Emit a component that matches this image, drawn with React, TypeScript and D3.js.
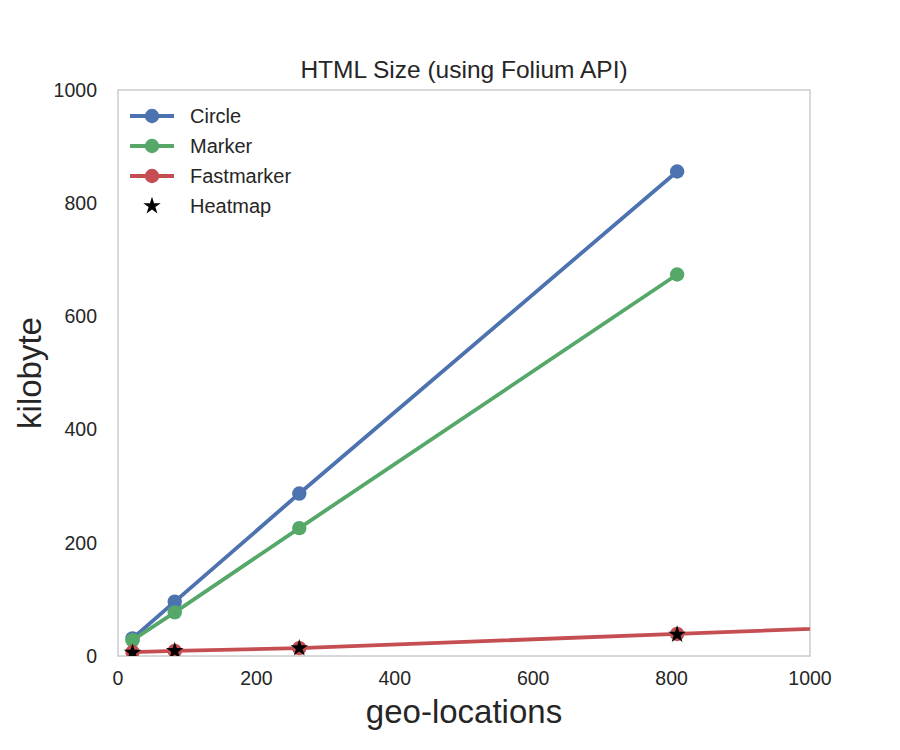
import { useEffect, useRef } from 'react'
import * as d3 from 'd3'

// values
const circleX = [21, 82, 262, 808]
const circleY = [31, 96, 287, 856]
const markerX = [21, 82, 262, 808]
const markerY = [28, 77, 226, 674]
const fastX = [21, 82, 262, 808, 2430]
const fastY = [7, 9, 14, 39, 115]
const heatX = [21, 82, 262, 808]
const heatY = [6, 9, 14, 38]

const xTicks = [0, 200, 400, 600, 800, 1000]
const yTicks = [0, 200, 400, 600, 800, 1000]

const series = [
  { name: 'Circle', xs: circleX, ys: circleY, color: '#4c72b0' },
  { name: 'Marker', xs: markerX, ys: markerY, color: '#55a868' },
  { name: 'Fastmarker', xs: fastX, ys: fastY, color: '#c44e52' },
]

export default function App() {
  const svgRef = useRef<SVGSVGElement>(null)

  useEffect(() => {
    const width = 900
    const height = 750
    const margin = { top: 90, right: 90, bottom: 94, left: 118 }
    const innerW = width - margin.left - margin.right
    const innerH = height - margin.top - margin.bottom
    const font = 'Liberation Sans, Arial, sans-serif'

    const svg = d3.select(svgRef.current)
    svg.selectAll('*').remove()
    svg.attr('width', width).attr('height', height).style('background', '#fff')

    svg.append('defs').append('clipPath').attr('id', 'plot-clip')
      .append('rect').attr('width', innerW).attr('height', innerH)

    const x = d3.scaleLinear().domain([0, 1000]).range([0, innerW])
    const y = d3.scaleLinear().domain([0, 1000]).range([innerH, 0])

    const g = svg.append('g').attr('transform', `translate(${margin.left},${margin.top})`)

    // spines
    g.append('rect')
      .attr('width', innerW).attr('height', innerH)
      .attr('fill', 'none').attr('stroke', '#cccccc').attr('stroke-width', 1.5)

    // tick labels
    g.selectAll('.xt').data(xTicks).enter().append('text')
      .attr('x', d => x(d)).attr('y', innerH + 29)
      .attr('text-anchor', 'middle')
      .attr('font-family', font).attr('font-size', 19.5).attr('fill', '#262626')
      .text(d => d)

    g.selectAll('.yt').data(yTicks).enter().append('text')
      .attr('x', -21).attr('y', d => y(d)).attr('dy', '0.35em')
      .attr('text-anchor', 'end')
      .attr('font-family', font).attr('font-size', 19.5).attr('fill', '#262626')
      .text(d => d)

    const plot = g.append('g').attr('clip-path', 'url(#plot-clip)')

    series.forEach(s => {
      const pts = s.xs.map((v, i) => [v, s.ys[i]] as [number, number])
      const line = d3.line<[number, number]>().x(d => x(d[0])).y(d => y(d[1]))
      plot.append('path').datum(pts)
        .attr('d', line)
        .attr('fill', 'none').attr('stroke', s.color).attr('stroke-width', 3.8)
      plot.selectAll(null).data(pts).enter().append('circle')
        .attr('cx', d => x(d[0])).attr('cy', d => y(d[1]))
        .attr('r', 7.2).attr('fill', s.color)
    })

    const star = d3.symbol().type(d3.symbolStar).size(95)
    plot.selectAll('.star').data(heatX.map((v, i) => [v, heatY[i]])).enter().append('path')
      .attr('d', star())
      .attr('transform', d => `translate(${x(d[0])},${y(d[1])})`)
      .attr('fill', '#000')

    // legend
    const lg = g.append('g').attr('transform', 'translate(12,26)')
    const items = [...series.map(s => ({ name: s.name, color: s.color, star: false })),
      { name: 'Heatmap', color: '#000', star: true }]
    items.forEach((it, i) => {
      const row = lg.append('g').attr('transform', `translate(0,${i * 30})`)
      if (it.star) {
        row.append('path').attr('d', star()).attr('transform', 'translate(22,0)').attr('fill', '#000')
      } else {
        row.append('line').attr('x1', 0).attr('x2', 44)
          .attr('stroke', it.color).attr('stroke-width', 3.8)
        row.append('circle').attr('cx', 22).attr('r', 7.2).attr('fill', it.color)
      }
      row.append('text').attr('x', 60).attr('dy', '0.35em')
        .attr('font-family', font).attr('font-size', 20).attr('fill', '#262626')
        .text(it.name)
    })

    // titles
    svg.append('text')
      .attr('x', margin.left + innerW / 2).attr('y', 78)
      .attr('text-anchor', 'middle')
      .attr('font-family', font).attr('font-size', 24.5).attr('fill', '#262626')
      .text('HTML Size (using Folium API)')

    svg.append('text')
      .attr('x', margin.left + innerW / 2).attr('y', 723)
      .attr('text-anchor', 'middle')
      .attr('font-family', font).attr('font-size', 33).attr('fill', '#262626')
      .text('geo-locations')

    svg.append('text')
      .attr('transform', `translate(41,${margin.top + innerH / 2}) rotate(-90)`)
      .attr('text-anchor', 'middle')
      .attr('font-family', font).attr('font-size', 33).attr('fill', '#262626')
      .text('kilobyte')
  }, [])

  return (
    <div style={{ margin: -8 }}>
      <svg ref={svgRef} style={{ display: 'block' }}></svg>
    </div>
  )
}
